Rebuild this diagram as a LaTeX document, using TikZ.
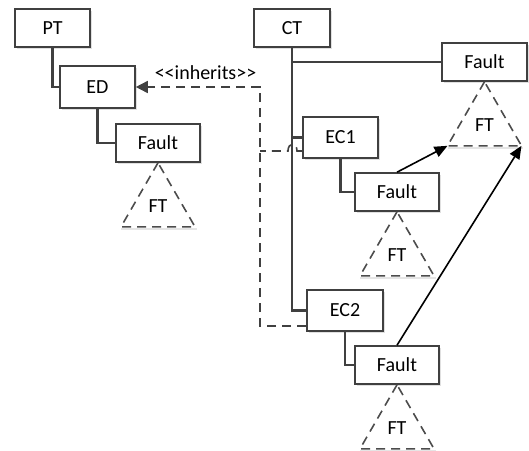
\documentclass[tikz,border=0pt]{standalone}
\usepackage{fontspec}
\setmainfont{Carlito}[Ligatures=TeXOff]
\usetikzlibrary{arrows.meta,shadows}

\tikzset{
  box/.style={draw=black!75, line width=1.6pt, fill=white, inner sep=0pt,
    font=\fontsize{20}{24}\selectfont,
    drop shadow={shadow xshift=2pt, shadow yshift=-2pt, fill=black!12, opacity=1}},
  conn/.style={draw=black!75, line width=2.4pt},
  inh/.style={draw=black!75, line width=1.6pt, dash pattern=on 9pt off 6pt},
  tri/.style={draw=black!70, line width=1.6pt, dash pattern=on 9pt off 6pt},
  trishade/.style={draw=black!10, line width=2pt},
  arr/.style={draw=black, line width=1.6pt, -{Triangle[length=13pt,width=11pt]}},
  lbl/.style={font=\fontsize{20}{24}\selectfont, inner sep=0pt},
  pics/fttri/.style={code={
    \coordinate (-l) at (-37,64);
    \coordinate (-r) at (37,64);
    \draw[trishade] (-37,66.5) -- (38.5,66.5);
    \draw[tri] (0,0) -- (-l) -- (-r) -- cycle;
    \node[lbl] at (0,43) {FT};
  }}
}

\begin{document}
\begin{tikzpicture}[x=1pt, y=-1pt]
\useasboundingbox (0,0) rectangle (529,450);

% boxes
\node[box, minimum width=75pt, minimum height=38pt] (PT)  at (52.5,28)   {PT};
\node[box, minimum width=75pt, minimum height=42pt] (ED)  at (97.5,87)   {ED};
\node[box, minimum width=84pt, minimum height=38pt] (FL)  at (158,143)   {Fault};
\node[box, minimum width=76pt, minimum height=38pt] (CT)  at (292,28)    {CT};
\node[box, minimum width=85pt, minimum height=38pt] (FR)  at (484.5,62)  {Fault};
\node[box, minimum width=75pt, minimum height=41pt] (EC1) at (340.5,137.5) {EC1};
\node[box, minimum width=84pt, minimum height=38pt] (F1)  at (397,192)   {Fault};
\node[box, minimum width=76pt, minimum height=41pt] (EC2) at (345,310.5) {EC2};
\node[box, minimum width=84pt, minimum height=38pt] (F2)  at (397,365)   {Fault};

% fault trees below each fault
\pic (ftL) at (FL.south) {fttri};
\pic (ftR) at (FR.south) {fttri};
\pic (ft1) at (F1.south) {fttri};
\pic (ft2) at (F2.south) {fttri};

% containment links
\draw[conn] (PT.south) |- (ED.west);
\draw[conn] (ED.south) |- (FL.west);
\draw[conn] (CT.south) |- (EC2.west);
\draw[conn] (CT.south |- FR.west) -- (FR.west);
\draw[conn] (CT.south |- EC1.west) -- (EC1.west);
\draw[conn] (EC1.south) |- (F1.west);
\draw[conn] (EC2.south) |- (F2.west);

% inheritance links
\coordinate (dk) at (260,87);
\coordinate (dj) at (260,151);
\coordinate (h1) at (297,151);
\coordinate (h2) at (288,151);
\draw[inh, -{Triangle[length=12pt,width=12pt]}] ([yshift=-15.5pt]EC2.west) -| (dk) -- (ED.east);
\draw[inh] ([yshift=-13.5pt]EC1.west) -- (h1) .. controls +(0,-9) and +(0,-9) .. (h2) -- (dj);
\node[lbl] (inhlbl) at (205.5,73) {<<inherits>>};

% links into the shared fault tree
\draw[arr] (F1.north) -- (ftR-l);
\draw[arr] (F2.north) -- (ftR-r);
\end{tikzpicture}
\end{document}
